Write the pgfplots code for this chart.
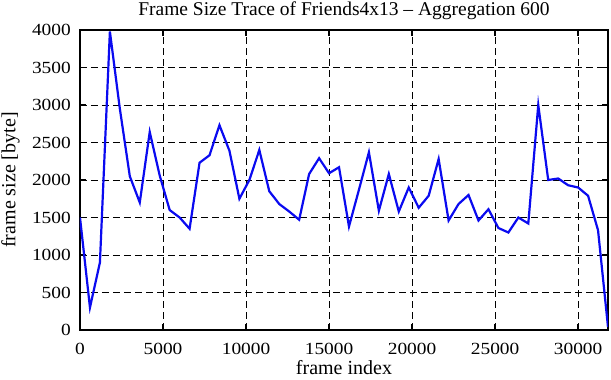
\documentclass[border=0pt]{standalone}
\usepackage{fontspec}
\setmainfont{Liberation Serif}
\newfontfamily\tickfont{Liberation Serif}[FakeStretch=1.14]
\usepackage{pgfplots}
\pgfplotsset{compat=1.18}
\begin{document}
\begin{tikzpicture}
\begin{axis}[
  scale only axis,
  width=528pt, height=300pt,
  xmin=0, xmax=31800, ymin=0, ymax=4000,
  xtick={0,5000,...,30000},
  ytick={0,500,...,4000},
  /pgf/number format/assume math mode=true,
  /pgf/number format/1000 sep={},
  scaled x ticks=false, scaled y ticks=false,
  tick align=inside,
  major tick length=6pt,
  tick style={black, line width=1.4pt},
  axis line style={black, line width=2pt},
  grid=major,
  major grid style={black, line width=0.8pt, dash pattern=on 7pt off 4pt},
  every tick label/.append style={font=\tickfont\fontsize{17}{19}\selectfont, inner sep=0pt},
  xticklabel style={anchor=north, yshift=-12.5pt},
  yticklabel style={anchor=east, xshift=-9pt},
  title style={font=\fontsize{19.5}{22}\selectfont, at={(0.5,1)}, anchor=base,
    inner sep=0pt, text height=13pt, yshift=8.3pt},
  title={Frame Size Trace of Friends4x13 -- Aggregation 600},
  xlabel={frame index},
  ylabel={frame size [byte]},
  xlabel style={font=\fontsize{20}{22}\selectfont, at={(axis description cs:0.5,0)},
    anchor=base, inner sep=0pt, yshift=-45pt},
  ylabel style={font=\fontsize{20}{22}\selectfont, at={(axis description cs:0,0.5)},
    anchor=base, inner sep=0pt, yshift=64.5pt},
]
\addplot[color={rgb,255:red,10;green,10;blue,240}, line width=2.2pt, line join=miter] table[x expr=\coordindex*600, y index=0] {
y
1500
300
900
3980
2950
2050
1700
2640
2060
1600
1500
1350
2230
2330
2730
2390
1750
2000
2400
1850
1680
1580
1470
2080
2290
2090
2170
1380
1870
2370
1590
2080
1580
1900
1630
1790
2280
1460
1680
1800
1460
1610
1360
1300
1500
1420
3000
2000
2020
1930
1900
1790
1330
40
};
\end{axis}
\pgfresetboundingbox
\useasboundingbox ([xshift=-80pt,yshift=-50pt]current axis.south west) rectangle ([xshift=3pt,yshift=30pt]current axis.north east);
\end{tikzpicture}
\end{document}
